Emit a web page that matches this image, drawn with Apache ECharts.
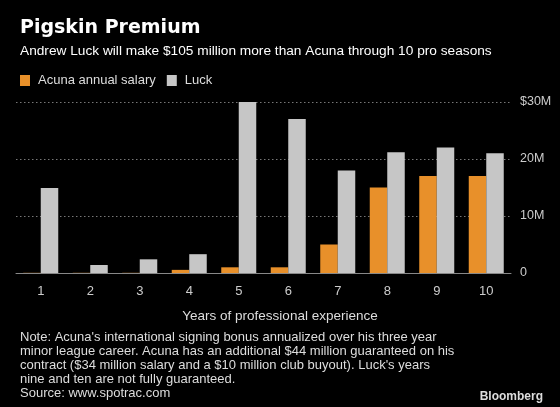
<!DOCTYPE html>
<html><head><meta charset="utf-8">
<script src="https://cdn.jsdelivr.net/npm/echarts@6/dist/echarts.min.js"></script>
<style>html,body{margin:0;padding:0;background:#000;}#c{width:560px;height:407px;}</style>
</head><body><div id="c"></div>
<script>
const categories = ['1','2','3','4','5','6','7','8','9','10'];
const acunaSalary = [0.03, 0.03, 0.03, 0.55, 1, 1, 5, 15, 17, 17];
const luckSalary = [14.9, 1.4, 2.4, 3.3, 30, 27, 18, 21.2, 22, 21];
const yTickLabels = {0: '0', 10: '10M', 20: '20M', 30: '$30M'};
const seriesNames = ['Acuna annual salary', 'Luck'];
const titleText = 'Pigskin Premium';
const subtitleText = 'Andrew Luck will make $105 million more than Acuna through 10 pro seasons';
const xAxisName = 'Years of professional experience';
const noteText = "Note: Acuna's international signing bonus annualized over his three year\nminor league career. Acuna has an additional $44 million guaranteed on his\ncontract ($34 million salary and a $10 million club buyout). Luck's years\nnine and ten are not fully guaranteed.\nSource: www.spotrac.com";

const FONT = 'Liberation Sans';
const chart = echarts.init(document.getElementById('c'), null, {renderer: 'canvas'});
chart.setOption({
  backgroundColor: '#000',
  animation: false,
  title: [
    {text: titleText, left: 15, top: 14, textStyle: {fontFamily: 'DejaVu Sans', fontWeight: 'bold', fontSize: 19, color: '#fff'}},
    {text: subtitleText, left: 15, top: 39, textStyle: {fontFamily: FONT, fontWeight: 'normal', fontSize: 13.7, color: '#fff'}},
    {text: xAxisName, left: 'center', top: 304, textStyle: {fontFamily: FONT, fontWeight: 'normal', fontSize: 13.5, color: '#ddd'}},
    {text: noteText, left: 15, top: 326, textStyle: {fontFamily: FONT, fontWeight: 'normal', fontSize: 13, lineHeight: 13.8, color: '#ddd'}},
    {text: 'Bloomberg', right: 12, top: 386, textStyle: {fontFamily: FONT, fontWeight: 'bold', fontSize: 12, color: '#ddd'}}
  ],
  legend: {
    left: 15, top: 69, itemWidth: 10, itemHeight: 11, itemGap: 11,
    icon: 'rect',
    textStyle: {fontFamily: FONT, fontSize: 13, color: '#ddd', padding: [0, 0, 0, 3]},
    data: seriesNames
  },
  grid: {left: 16, right: 49, top: 102, bottom: 134},
  xAxis: {
    type: 'category', data: categories,
    axisLine: {lineStyle: {color: '#888', width: 1}},
    axisTick: {alignWithLabel: true, length: 4, lineStyle: {color: '#888'}},
    axisLabel: {color: '#ccc', fontFamily: FONT, fontSize: 13, margin: 12}
  },
  yAxis: {
    type: 'value', position: 'right', min: 0, max: 30, interval: 10,
    axisLine: {show: false}, axisTick: {show: false},
    axisLabel: {color: '#ccc', fontFamily: FONT, fontSize: 12.5, margin: 9, formatter: v => yTickLabels[v]},
    splitLine: {lineStyle: {color: '#777', type: [1.5, 2.5], width: 1}}
  },
  series: [
    {name: seriesNames[0], type: 'bar', data: acunaSalary, barWidth: 17.5, barGap: '0%', itemStyle: {color: '#e8902a'}},
    {name: seriesNames[1], type: 'bar', data: luckSalary, barWidth: 17.5, itemStyle: {color: '#c6c6c6'}}
  ]
});
</script></body></html>
